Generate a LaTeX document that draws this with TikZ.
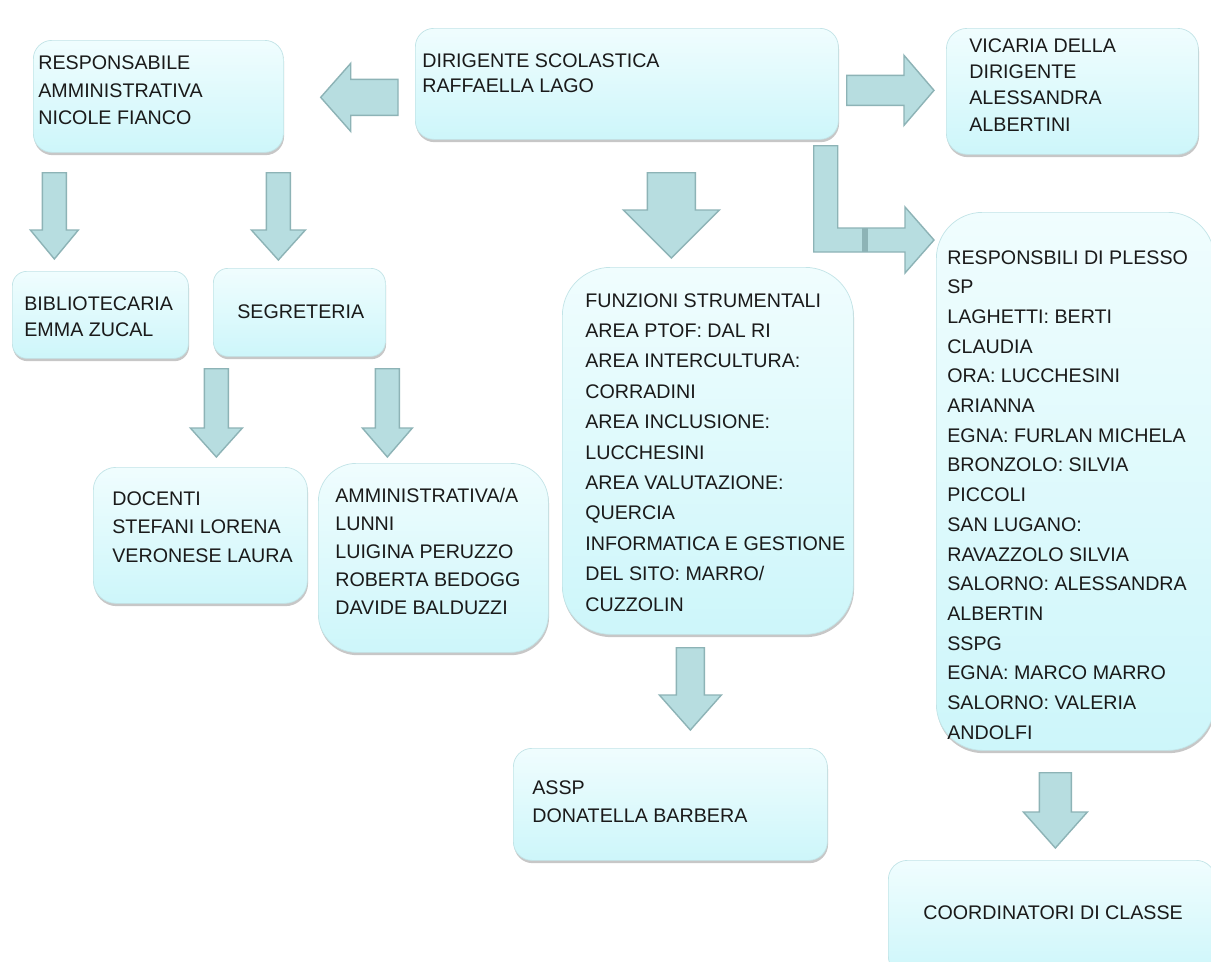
\documentclass[tikz,border=0pt]{standalone}
\usepackage{fontspec}
\setmainfont{Liberation Sans}
\usetikzlibrary{calc,shadows}

\definecolor{boxtop}{HTML}{F0FDFE}
\definecolor{boxbot}{HTML}{CDF6FA}
\definecolor{boxline}{HTML}{C2E4E7}
\definecolor{arrowfill}{HTML}{B7DDE0}
\definecolor{arrowline}{HTML}{8DB3B6}
\definecolor{textgray}{HTML}{1A1A1A}

\newlength\unitpx
\setlength\unitpx{0.02cm}

\tikzset{
  orgbox/.style={draw=boxline, line width=0.4pt, top color=boxtop, bottom color=boxbot,
    inner sep=0pt, anchor=north west, text=textgray, leading=15.9pt,
    drop shadow={shadow xshift=0.4pt, shadow yshift=-1.6pt, fill=black, opacity=0.22}},
  boxsize/.style n args={4}{execute at begin node={\begin{minipage}[t][#2\unitpx][t]{#1\unitpx}\vspace*{#4\unitpx}\raggedright\leftskip=#3\unitpx\relax},
    execute at end node={\end{minipage}}},
  leading/.style={font=\fontsize{11.2pt}{#1}\selectfont},
  blockarrow/.style={fill=arrowfill, draw=arrowline, line width=0.8pt, line join=miter}
}

% block arrow: shaft half width, head half width, head length, from, to
\newcommand\blockarrow[5]{%
  \coordinate (ba-s) at (#4);
  \coordinate (ba-t) at (#5);
  \coordinate (ba-b) at ($(ba-t)!#3*0.02cm!(ba-s)$);
  \draw[blockarrow] ($(ba-s)!#1*0.02cm!90:(ba-t)$) -- ($(ba-b)!#1*0.02cm!90:(ba-t)$)
    -- ($(ba-b)!#2*0.02cm!90:(ba-t)$) -- (ba-t)
    -- ($(ba-b)!#2*0.02cm!-90:(ba-t)$) -- ($(ba-b)!#1*0.02cm!-90:(ba-t)$)
    -- ($(ba-s)!#1*0.02cm!-90:(ba-t)$) -- cycle;
}

\begin{document}
\begin{tikzpicture}[x=0.02cm, y=-0.02cm]
\useasboundingbox[fill=white] (0,0) rectangle (1211,961);

% Top row
\node[orgbox, boxsize={250}{112}{5}{15}, rounded corners=10.6pt] (resp) at (33,40)
  {RESPONSABILE\\AMMINISTRATIVA\\NICOLE FIANCO};
\node[orgbox, boxsize={423}{111}{7}{25}, leading=14.7pt, rounded corners=10.5pt] (dir) at (415,28)
  {DIRIGENTE SCOLASTICA\\RAFFAELLA LAGO};
\node[orgbox, boxsize={252}{126}{23}{10}, leading=15pt, rounded corners=11.9pt] (vic) at (946,28)
  {VICARIA DELLA\\DIRIGENTE\\ALESSANDRA\\ALBERTINI};

% Left branch
\node[orgbox, boxsize={176}{87}{12}{25}, leading=15pt, rounded corners=8.2pt] (bibl) at (12,271)
  {BIBLIOTECARIA\\EMMA ZUCAL};
\node[orgbox, boxsize={172}{88}{24}{36}, rounded corners=8.3pt] (segr) at (213,268)
  {SEGRETERIA};
\node[orgbox, boxsize={214}{136}{19}{24}, leading=16.2pt, rounded corners=12.9pt] (doc) at (93,467)
  {DOCENTI\\STEFANI LORENA\\VERONESE LAURA};
\node[orgbox, boxsize={230}{189}{17}{25}, rounded corners=21.7pt] (amm) at (318,463)
  {AMMINISTRATIVA/A\\LUNNI\\LUIGINA PERUZZO\\ROBERTA BEDOGG\\DAVIDE BALDUZZI};

% Middle branch
\node[orgbox, boxsize={291}{367}{23}{26}, leading=17.3pt, rounded corners=27.5pt] (funz) at (562,267)
  {FUNZIONI STRUMENTALI\\AREA PTOF: DAL RI\\AREA INTERCULTURA:\\CORRADINI\\AREA INCLUSIONE:\\LUCCHESINI\\AREA VALUTAZIONE:\\QUERCIA\\INFORMATICA E GESTIONE\\DEL SITO: MARRO/\\CUZZOLIN};
\node[orgbox, boxsize={314}{112}{19}{32}, rounded corners=10.6pt] (assp) at (513,748)
  {ASSP\\DONATELLA BARBERA};

% Right branch
\node[orgbox, boxsize={278}{538}{11}{38}, leading=16.9pt, rounded corners=26.3pt] (plesso) at (936,212)
  {RESPONSBILI DI PLESSO\\SP\\LAGHETTI: BERTI\\CLAUDIA\\ORA: LUCCHESINI\\ARIANNA\\EGNA: FURLAN MICHELA\\BRONZOLO: SILVIA\\PICCOLI\\SAN LUGANO:\\RAVAZZOLO SILVIA\\SALORNO: ALESSANDRA\\ALBERTIN\\SSPG\\EGNA: MARCO MARRO\\SALORNO: VALERIA\\ANDOLFI};
\node[orgbox, boxsize={327}{115}{35}{45}, rounded corners=10.9pt] (coord) at (888,860)
  {COORDINATORI DI CLASSE};

% Arrows
\blockarrow{18}{34}{30}{$(dir.west)+(-17,13.5)$}{$(resp.east)+(37,1)$}
\blockarrow{15}{35}{30}{$(dir.east)+(8,6.5)$}{$(vic.west)+(-12,-1)$}
\blockarrow{24}{48}{48}{$(dir.south)+(44.5,33)$}{$(funz.north)+(-36.5,-9)$}
\blockarrow{12}{24}{29}{$(resp.south)+(-104,20)$}{$(bibl.north)+(-46,-12)$}
\blockarrow{12}{27}{30}{$(resp.south)+(120,20)$}{$(segr.north)+(-21,-8)$}
\blockarrow{12}{26}{29}{$(segr.south)+(-83,12)$}{$(doc.north)+(16,-10)$}
\blockarrow{12}{25}{29}{$(segr.south)+(88,12)$}{$(amm.north)+(-46,-6)$}
\blockarrow{14}{31}{35}{$(funz.south)+(-17.5,13)$}{$(assp.north)+(20,-18)$}
\blockarrow{16}{32}{36}{$(plesso.south)+(-20,22)$}{$(coord.north)+(3.5,-12)$}

% Bent arrow (dir -> plesso)
\coordinate (ltop) at ($(dir.south east)+(-13,6)$);
\coordinate (ltip) at ($(plesso.north west)+(-2,28)$);
\draw[blockarrow] ($(ltop)+(-12,0)$) -- ($(ltop |- ltip)+(-12,12)$) -- ($(ltip)+(-29,12)$)
  -- ($(ltip)+(-29,33)$) -- (ltip) -- ($(ltip)+(-29,-33)$) -- ($(ltip)+(-29,-12)$)
  -- ($(ltop |- ltip)+(12,-12)$) -- ($(ltop)+(12,0)$) -- cycle;
\fill[arrowline] ($(ltip)+(-72,-12)$) rectangle ($(ltip)+(-66,12)$);
\end{tikzpicture}
\end{document}
